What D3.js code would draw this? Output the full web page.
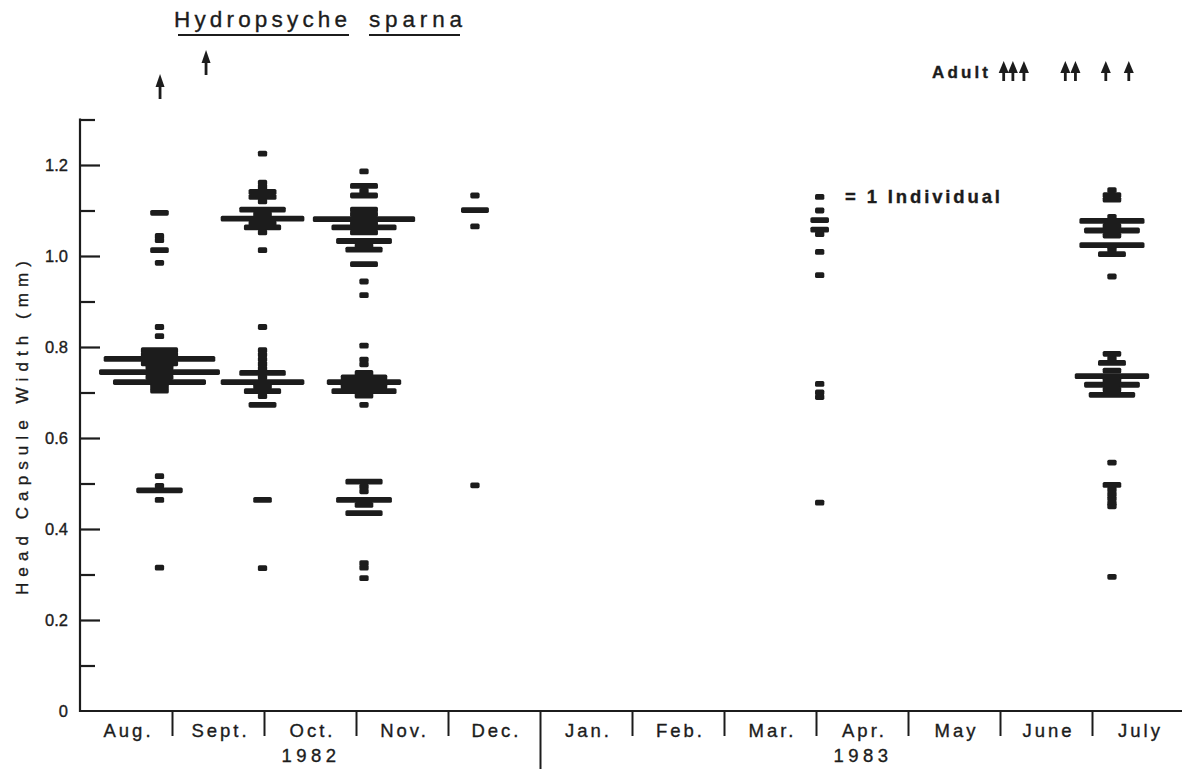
<!DOCTYPE html>
<html>
<head>
<meta charset="utf-8">
<script src="https://cdn.jsdelivr.net/npm/d3@7"></script>
<style>
  body { margin: 0; background: #fff; }
  svg { display: block; font-family: "Liberation Sans", Arial, sans-serif; }
  text { stroke: #1c1c1c; stroke-width: 0.35px; }
</style>
</head>
<body>
<svg id="chart" width="1182" height="769"></svg>
<script>
// Month strip along the time axis (Aug 1982 - July 1983)
const monthLabels = ["Aug.", "Sept.", "Oct.", "Nov.", "Dec.", "Jan.", "Feb.", "Mar.", "Apr.", "May", "June", "July"];
const yearLabels = ["1982", "1983"];
const yearStartMonth = [0, 5];   // month index where each year begins
const majorTicks = [0, 0.2, 0.4, 0.6, 0.8, 1.0, 1.2];
const minorTicks = [0.1, 0.3, 0.5, 0.7, 0.9, 1.1, 1.3];

// Sampling dates, in months after 1 Aug 1982
const sampleMonths = [0.864, 1.984, 3.087, 4.293, 8.04, 11.217];

// Head capsule width (mm) and number of larvae of that width, per sample
const sampleAug = [
  [1.095, 2], [1.044, 1], [1.035, 1], [1.013, 2], [0.985, 1],
  [0.844, 1], [0.824, 1],
  [0.793, 4], [0.784, 4], [0.774, 12], [0.764, 4], [0.755, 3], [0.745, 13],
  [0.734, 3], [0.723, 10], [0.713, 2], [0.704, 2],
  [0.516, 1], [0.495, 1], [0.485, 5], [0.464, 1],
  [0.315, 1]
];
const sampleSep = [
  [1.225, 1], [1.161, 1], [1.152, 1], [1.141, 3], [1.130, 3], [1.120, 1],
  [1.102, 5], [1.092, 2], [1.082, 9], [1.072, 3], [1.063, 4], [1.052, 1], [1.013, 1],
  [0.844, 1], [0.793, 1], [0.783, 1], [0.773, 1], [0.763, 1], [0.753, 1],
  [0.743, 5], [0.733, 1], [0.723, 9], [0.713, 2], [0.703, 4], [0.692, 1], [0.673, 3],
  [0.464, 2], [0.314, 1]
];
const sampleOct = [
  [1.186, 1], [1.154, 3], [1.143, 1], [1.133, 3], [1.102, 3], [1.092, 3],
  [1.081, 11], [1.071, 3], [1.063, 7], [1.052, 3], [1.033, 6], [1.022, 2],
  [1.014, 4], [0.982, 3], [0.944, 1], [0.914, 1],
  [0.803, 1], [0.772, 1], [0.762, 1], [0.743, 2], [0.733, 5], [0.723, 8],
  [0.713, 5], [0.703, 7], [0.693, 2], [0.673, 1],
  [0.504, 4], [0.493, 1], [0.483, 1], [0.464, 6], [0.453, 2], [0.435, 4],
  [0.325, 1], [0.315, 1], [0.292, 1]
];
const sampleNov = [
  [1.133, 1], [1.101, 3], [1.065, 1], [0.496, 1]
];
const sampleApr = [
  [1.100, 1], [1.079, 2], [1.058, 2], [1.048, 1], [1.009, 1], [0.958, 1],
  [0.719, 1], [0.700, 1], [0.690, 1], [0.458, 1]
];
const sampleJul = [
  [1.145, 1], [1.134, 2], [1.124, 2], [1.086, 1], [1.077, 7], [1.066, 2],
  [1.056, 6], [1.045, 2], [1.024, 7], [1.014, 1], [1.004, 3], [0.955, 1],
  [0.785, 2], [0.775, 1], [0.765, 3], [0.748, 2], [0.736, 8], [0.726, 2],
  [0.717, 6], [0.706, 2], [0.695, 5],
  [0.546, 1], [0.497, 2], [0.487, 1], [0.477, 1], [0.467, 1], [0.457, 1], [0.450, 1],
  [0.295, 1]
];
const samples = [sampleAug, sampleSep, sampleOct, sampleNov, sampleApr, sampleJul];

// Arrow dates (months after 1 Aug 1982)
const larvaArrows = [0.87, 1.37];
const adultArrows = [10.04, 10.14, 10.26, 10.71, 10.82, 11.15, 11.40];

const svg = d3.select("#chart");
const ink = "#1c1c1c";

const x = d3.scaleLinear().domain([0, 12]).range([80, 1184]);
const y = d3.scaleLinear().domain([0, 1.3]).range([711, 119.5]);
const w = d3.scaleLinear().domain([0, 1]).range([0, 9.3]);   // one individual
const barH = 5.8;

// ---- y axis ----
const gy = svg.append("g").attr("transform", `translate(${x(0)},0)`);
gy.append("line").attr("y1", y(0) + 1).attr("y2", y(1.3) - 1)
  .attr("stroke", ink).attr("stroke-width", 2.2);
const yMajor = d3.axisRight(y).tickValues(majorTicks.slice(1)).tickSize(20).tickFormat("").tickSizeOuter(0);
const yMinor = d3.axisRight(y).tickValues(minorTicks).tickSize(15).tickFormat("").tickSizeOuter(0);
[yMajor, yMinor].forEach(ax => {
  const g = gy.append("g").call(ax);
  g.select(".domain").remove();
  g.selectAll(".tick line").attr("stroke", ink).attr("stroke-width", 2.2);
});
const yLab = gy.append("g").call(
  d3.axisLeft(y).tickValues(majorTicks).tickSize(0).tickPadding(12)
    .tickFormat(d => d === 0 ? "0" : d3.format(".1f")(d))
);
yLab.select(".domain").remove();
yLab.selectAll("text").attr("font-size", 16.5).attr("fill", ink)
  .attr("font-family", "Liberation Sans, Arial, sans-serif");

svg.append("text")
  .attr("transform", "translate(28,428) rotate(-90)")
  .attr("text-anchor", "middle")
  .attr("font-size", 17).attr("fill", ink)
  .attr("textLength", 334).attr("lengthAdjust", "spacing")
  .text("Head Capsule Width (mm)");

// ---- time axis ----
svg.append("line").attr("x1", x(0) - 1).attr("x2", 1182)
  .attr("y1", y(0)).attr("y2", y(0)).attr("stroke", ink).attr("stroke-width", 2.2);
const gx = svg.append("g").attr("transform", `translate(0,${y(0)})`)
  .call(d3.axisBottom(x).tickValues(d3.range(1, 12)).tickSize(25).tickFormat("").tickSizeOuter(0));
gx.select(".domain").remove();
gx.selectAll(".tick line").attr("stroke", ink).attr("stroke-width", 2)
  .attr("y2", d => yearStartMonth.includes(d) ? 769 - y(0) : 25);

svg.append("g").selectAll("text").data(monthLabels).join("text")
  .attr("x", (d, i) => x(i + 0.5) + 2.5)
  .attr("y", 737)
  .attr("text-anchor", "middle")
  .attr("font-size", 18.5).attr("letter-spacing", 3).attr("fill", ink)
  .text(d => d);

svg.append("g").selectAll("text").data(yearLabels).join("text")
  .attr("x", (d, i) => {
    const a = yearStartMonth[i], b = i + 1 < yearStartMonth.length ? yearStartMonth[i + 1] : 12;
    return x((a + b) / 2) + 1;
  })
  .attr("y", 762)
  .attr("text-anchor", "middle")
  .attr("font-size", 18.5).attr("letter-spacing", 4.5).attr("fill", ink)
  .text(d => d);

// ---- size-frequency bars: one unit of width per individual ----
const marks = svg.append("g").attr("fill", ink);
samples.forEach((rows, i) => {
  const cx = x(sampleMonths[i]);
  marks.selectAll(null).data(rows).join("rect")
    .attr("x", d => cx - w(d[1]) / 2)
    .attr("y", d => y(d[0]) - barH / 2)
    .attr("width", d => w(d[1]))
    .attr("height", barH)
    .attr("rx", 1.6);
});

// ---- legend ----
svg.append("rect").attr("x", x(sampleMonths[4]) - w(1) / 2).attr("y", 194)
  .attr("width", w(1)).attr("height", barH).attr("rx", 1.6).attr("fill", ink);
svg.append("text").attr("x", 845).attr("y", 203)
  .attr("font-size", 18.5).attr("font-weight", "bold").attr("fill", ink)
  .attr("textLength", 155).attr("lengthAdjust", "spacing")
  .text("= 1 Individual");

// ---- title ----
const title = svg.append("g").attr("fill", ink).attr("font-size", 22.5);
title.append("text").attr("x", 174).attr("y", 27)
  .attr("textLength", 173).attr("lengthAdjust", "spacing").text("Hydropsyche");
title.append("text").attr("x", 369).attr("y", 27)
  .attr("textLength", 93).attr("lengthAdjust", "spacing").text("sparna");
title.append("line").attr("x1", 178).attr("x2", 349).attr("y1", 35).attr("y2", 35)
  .attr("stroke", ink).attr("stroke-width", 2);
title.append("line").attr("x1", 369).attr("x2", 460).attr("y1", 35).attr("y2", 35)
  .attr("stroke", ink).attr("stroke-width", 2);

// ---- arrows ----
function arrow(g, cx, tip, base, headH, headW) {
  g.append("path")
    .attr("d", `M${cx},${tip} L${cx - headW / 2},${tip + headH} L${cx + headW / 2},${tip + headH} Z`)
    .attr("fill", ink);
  g.append("line").attr("x1", cx).attr("x2", cx).attr("y1", tip + headH - 1).attr("y2", base)
    .attr("stroke", ink).attr("stroke-width", 2.8);
}
const arrows = svg.append("g");
larvaArrows.forEach((m, i) => {
  const tip = i === 0 ? 74 : 50;
  arrow(arrows, x(m), tip, tip + 25, 13, 9);
});
adultArrows.forEach(m => arrow(arrows, x(m), 61, 81, 12, 10));

svg.append("text").attr("x", 932).attr("y", 78)
  .attr("font-size", 17).attr("font-weight", "bold").attr("fill", ink)
  .attr("textLength", 56).attr("lengthAdjust", "spacing")
  .text("Adult");
</script>
</body>
</html>
